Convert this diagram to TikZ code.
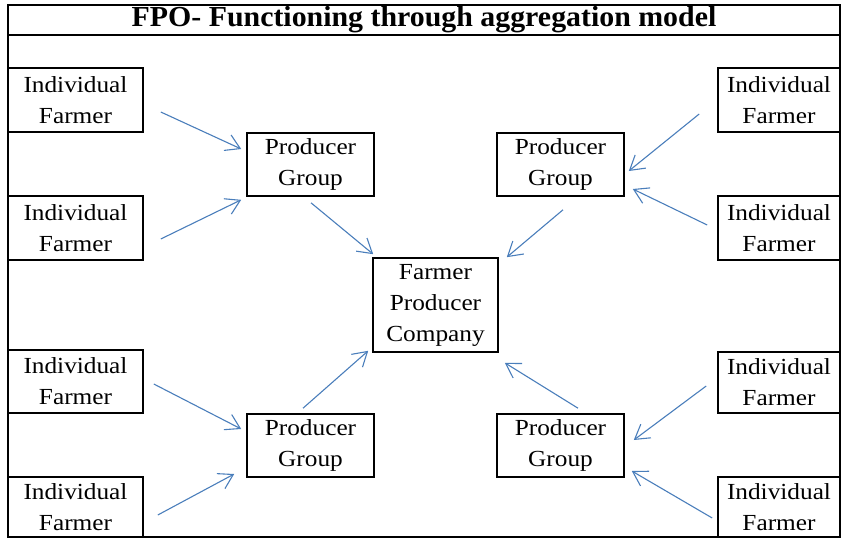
\documentclass[tikz,border=0pt]{standalone}
\usepackage{fontspec}
\setmainfont{Liberation Serif}[FakeStretch=1.1]
\newfontfamily\fpotitle{Liberation Serif}[FakeStretch=1.03]
\usetikzlibrary{arrows.meta,calc}
\definecolor{fpoblue}{RGB}{74,126,187}
\tikzset{
  fblk/.style={rectangle, draw=black, line width=1.6pt, align=center, inner sep=0pt,
               font=\fontsize{23}{31}\selectfont, minimum width=127pt, minimum height=63pt},
  farr/.style={-{Straight Barb[length=14pt,width=17pt]}, line width=1.1pt, fpoblue},
}
\begin{document}
\begin{tikzpicture}[x=1pt,y=-1pt]
        \useasboundingbox (0,0) rectangle (849,541);
        \draw[line width=1.6pt] (8,5) rectangle (840,537);
        \node[fblk, minimum width=832pt, minimum height=30pt, font=\fpotitle\bfseries\fontsize{29}{30}\selectfont] (title) at (424,20) {FPO- Functioning through aggregation model};
        % farmers, left and right columns
        \node[fblk, minimum width=135pt, minimum height=64pt] (f1) at (75.5,100) {Individual\\Farmer};
        \node[fblk, minimum width=135pt, minimum height=64pt] (f2) at (75.5,228) {Individual\\Farmer};
        \node[fblk, minimum width=135pt, minimum height=63pt] (f3) at (75.5,381.5) {Individual\\Farmer};
        \node[fblk, minimum width=135pt, minimum height=60pt] (f4) at (75.5,507) {Individual\\Farmer};
        \node[fblk, minimum width=122pt, minimum height=64pt] (f5) at (779,100) {Individual\\Farmer};
        \node[fblk, minimum width=122pt, minimum height=64pt] (f6) at (779,228) {Individual\\Farmer};
        \node[fblk, minimum width=122pt, minimum height=61pt] (f7) at (779,382.5) {Individual\\Farmer};
        \node[fblk, minimum width=122pt, minimum height=60pt] (f8) at (779,507) {Individual\\Farmer};
        % producer groups and company
        \node[fblk] (pgA) at (310.5,164.5) {Producer\\Group};
        \node[fblk] (pgB) at (560.5,164.5) {Producer\\Group};
        \node[fblk] (pgC) at (310.5,445.5) {Producer\\Group};
        \node[fblk] (pgD) at (560.5,445.5) {Producer\\Group};
        \node[fblk, minimum width=125pt, minimum height=94pt] (fpc) at (435.5,305) {Farmer\\Producer\\Company};
        \draw[farr] ($(f1.east)+(17,12)$) -- ($(pgA.west)+(-5,-15.5)$);
        \draw[farr] ($(f2.east)+(17,11)$) -- ($(pgA.south west)+(-5,3)$);
        \draw[farr] ($(pgA.south)+(0.5,6)$) -- ($(fpc.north west)+(1,-3)$);
        \draw[farr] ($(f5.west)+(-18,14)$) -- ($(pgB.east)+(4,6.5)$);
        \draw[farr] ($(f6.west)+(-10,-3)$) -- ($(pgB.east)+(8,24.5)$);
        \draw[farr] ($(pgB.south)+(2.5,13)$) -- ($(fpc.north east)+(8,0)$);
        \draw[farr] ($(f3.east)+(10,2.5)$) -- ($(pgC.west)+(-5,-16.5)$);
        \draw[farr] ($(f4.east)+(14,8)$) -- ($(pgC.west)+(-12,28.5)$);
        \draw[farr] ($(pgC.north)+(-7.5,-5)$) -- ($(fpc.south west)+(-4,-2)$);
        \draw[farr] ($(pgD.north)+(17.5,-5)$) -- ($(fpc.south east)+(6,10)$);
        \draw[farr] ($(f7.west)+(-11,3.5)$) -- ($(pgD.east)+(9,-5.5)$);
        \draw[farr] ($(f8.west)+(-5,11)$) -- ($(pgD.east)+(7,25.5)$);
    \end{tikzpicture}
\end{document}
